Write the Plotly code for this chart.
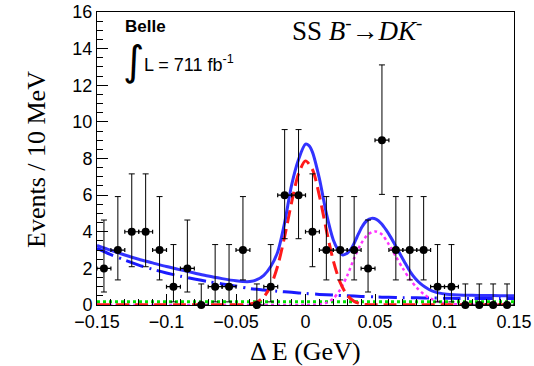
import plotly.graph_objects as go

# ---- data: binned events ----
bin_centers = [-0.145, -0.135, -0.125, -0.115, -0.105, -0.095, -0.085, -0.075, -0.065, -0.055,
               -0.045, -0.035, -0.025, -0.015, -0.005, 0.005, 0.015, 0.025, 0.035, 0.045,
               0.055, 0.065, 0.075, 0.085, 0.095, 0.105, 0.115, 0.125, 0.135, 0.145]
counts = [2, 3, 4, 4, 3, 1, 2, 0, 1, 1,
          3, 0, 1, 6, 6, 4, 3, 3, 3, 2,
          9, 3, 3, 3, 1, 1, 0, 0, 0, 0]
err_hi = [2.64, 2.92, 3.16, 3.16, 2.92, 2.30, 2.64, 1.15, 2.30, 2.30,
          2.92, 1.15, 2.30, 3.58, 3.58, 3.16, 2.92, 2.92, 2.92, 2.64,
          4.11, 2.92, 2.92, 2.92, 2.30, 2.30, 1.15, 1.15, 1.15, 1.15]
err_lo = [1.29, 1.63, 1.91, 1.91, 1.63, 0.83, 1.29, 0.0, 0.83, 0.83,
          1.63, 0.0, 0.83, 2.38, 2.38, 1.91, 1.63, 1.63, 1.63, 1.29,
          2.96, 1.63, 1.63, 1.63, 0.83, 0.83, 0.0, 0.0, 0.0, 0.0]
half_bin = [0.005] * 30

# ---- fit curves ----
total_x = [-0.15, -0.14, -0.13, -0.12, -0.11, -0.10, -0.09, -0.08, -0.07, -0.06, -0.05, -0.045,
           -0.04, -0.035, -0.03, -0.025, -0.02, -0.015, -0.01, -0.005, 0.0, 0.0025, 0.005, 0.01,
           0.015, 0.02, 0.0235, 0.0265, 0.03, 0.0335, 0.037, 0.0405, 0.044, 0.0475, 0.051, 0.0545,
           0.058, 0.0615, 0.065, 0.0685, 0.072, 0.0755, 0.079, 0.0825, 0.086, 0.0895, 0.093, 0.0965,
           0.10, 0.11, 0.12, 0.13, 0.14, 0.15]
total_y = [3.25, 2.98, 2.73, 2.5, 2.3, 2.1, 1.92, 1.75, 1.58, 1.44, 1.32, 1.28,
           1.28, 1.38, 1.62, 2.1, 2.9, 4.5, 6.55, 7.95, 8.78, 8.7, 8.35, 6.9,
           5.0, 3.55, 3.0, 2.74, 2.82, 3.15, 3.7, 4.25, 4.6, 4.73, 4.68, 4.45,
           4.1, 3.68, 3.2, 2.72, 2.25, 1.8, 1.45, 1.18, 0.98, 0.82, 0.72, 0.65,
           0.6, 0.55, 0.53, 0.52, 0.51, 0.5]

signal_x = [-0.15, -0.1, -0.06, -0.05, -0.045, -0.04, -0.035, -0.03, -0.025, -0.02, -0.015, -0.01,
            -0.005, 0.0, 0.005, 0.01, 0.015, 0.02, 0.025, 0.03, 0.035, 0.04, 0.045, 0.05, 0.06,
            0.1, 0.15]
signal_y = [0.01, 0.01, 0.01, 0.01, 0.015, 0.05, 0.16, 0.44, 1.05, 2.14, 3.74, 5.6,
            7.17, 7.87, 7.4, 5.96, 4.1, 2.42, 1.22, 0.53, 0.2, 0.06, 0.02, 0.01, 0.01,
            0.01, 0.01]

feed_x = [-0.15, -0.05, 0.0, 0.01, 0.015, 0.02, 0.025, 0.03, 0.035, 0.04, 0.045, 0.05, 0.055,
          0.06, 0.065, 0.07, 0.075, 0.08, 0.085, 0.09, 0.095, 0.1, 0.11, 0.12, 0.15]
feed_y = [0.0, 0.0, 0.0, 0.03, 0.12, 0.35, 0.85, 1.6, 2.55, 3.35, 3.85, 4.02, 3.85,
          3.3, 2.65, 2.0, 1.42, 0.95, 0.6, 0.35, 0.2, 0.1, 0.03, 0.01, 0.0]

bkg_x = [-0.15, -0.14, -0.13, -0.12, -0.11, -0.10, -0.09, -0.08, -0.07, -0.06, -0.05, -0.04,
         -0.03, -0.02, -0.01, 0.0, 0.01, 0.02, 0.03, 0.04, 0.05, 0.06, 0.07, 0.08, 0.09, 0.10,
         0.11, 0.12, 0.13, 0.14, 0.15]
bkg_y = [3.1, 2.75, 2.45, 2.18, 1.95, 1.75, 1.57, 1.42, 1.28, 1.15, 1.03, 0.9,
         0.82, 0.75, 0.69, 0.63, 0.58, 0.54, 0.5, 0.47, 0.44, 0.42, 0.4, 0.39, 0.38, 0.37,
         0.36, 0.36, 0.35, 0.35, 0.35]

flat_x = [-0.15, 0.15]
flat_y = [0.18, 0.18]

x_tickvals = [-0.15, -0.1, -0.05, 0, 0.05, 0.1, 0.15]
x_ticktext = ["\u22120.15", "\u22120.1", "\u22120.05", "0", "0.05", "0.1", "0.15"]
y_tickvals = [0, 2, 4, 6, 8, 10, 12, 14, 16]
y_ticktext = ["0", "2", "4", "6", "8", "10", "12", "14", "16"]

fig = go.Figure()

fig.add_trace(go.Scatter(x=flat_x, y=flat_y, mode="lines",
                         line=dict(color="#00e000", width=3, dash="dot")))
fig.add_trace(go.Scatter(x=bkg_x, y=bkg_y, mode="lines",
                         line=dict(color="#1a1aff", width=3, dash="18px,6px,2px,6px", shape="spline", smoothing=0.8)))
fig.add_trace(go.Scatter(x=feed_x, y=feed_y, mode="lines",
                         line=dict(color="#ff33ff", width=2.5, dash="dot", shape="spline", smoothing=0.8)))
fig.add_trace(go.Scatter(x=signal_x, y=signal_y, mode="lines",
                         line=dict(color="#ff1a1a", width=3, dash="13px,6px", shape="spline", smoothing=0.8)))
fig.add_trace(go.Scatter(x=total_x, y=total_y, mode="lines",
                         line=dict(color="#3333ff", width=3, shape="spline", smoothing=0.8)))
fig.add_trace(go.Scatter(
    x=bin_centers, y=counts, mode="markers", cliponaxis=False,
    marker=dict(color="black", size=8),
    error_y=dict(type="data", symmetric=False, array=err_hi, arrayminus=err_lo,
                 color="black", thickness=1, width=3),
    error_x=dict(type="data", array=half_bin, color="black", thickness=1.2, width=2),
))

axis_font = dict(family="Liberation Sans, Arial, sans-serif", size=18, color="black")

fig.update_layout(
    width=534, height=366,
    margin=dict(l=97, r=20, t=12, b=61, autoexpand=False),
    paper_bgcolor="white", plot_bgcolor="white",
    showlegend=False,
    xaxis=dict(range=[-0.15, 0.15], tickmode="array", tickvals=x_tickvals, ticktext=x_ticktext,
               ticks="inside", ticklen=11, tickcolor="black", tickwidth=1, automargin=False,
               ticklabeloverflow="allow",
               minor=dict(dtick=0.01, tick0=0, ticks="inside", ticklen=6, tickcolor="black"),
               showline=True, linecolor="black", linewidth=1, mirror=True,
               showgrid=False, zeroline=False, tickfont=axis_font),
    yaxis=dict(range=[0, 16], tickmode="array", tickvals=y_tickvals, ticktext=y_ticktext,
               ticks="inside", ticklen=11, tickcolor="black", tickwidth=1, automargin=False,
               ticklabeloverflow="allow",
               minor=dict(dtick=0.5, tick0=0, ticks="inside", ticklen=6, tickcolor="black"),
               showline=True, linecolor="black", linewidth=1, mirror=True,
               showgrid=False, zeroline=False, tickfont=axis_font),
)

def px_x(px):
    return (px - 97) / 417.0

def px_y(py):
    return (305 - py) / 293.0

serif = "Liberation Serif, Times New Roman, serif"
sans = "Liberation Sans, Arial, sans-serif"

fig.add_annotation(xref="paper", yref="paper", x=px_x(36), y=px_y(160), text="Events / 10 MeV",
                   textangle=-90, showarrow=False, font=dict(family=serif, size=26, color="black"),
                   xanchor="center", yanchor="middle")
fig.add_annotation(xref="paper", yref="paper", x=px_x(305.5), y=px_y(351), text="\u0394 E (GeV)",
                   showarrow=False, font=dict(family=serif, size=26, color="black"),
                   xanchor="center", yanchor="middle")
fig.add_annotation(xref="paper", yref="paper", x=px_x(123), y=px_y(26), text="<b>Belle</b>",
                   showarrow=False, font=dict(family=sans, size=17, color="black"),
                   xanchor="left", yanchor="middle")
fig.add_annotation(xref="paper", yref="paper", x=px_x(121), y=px_y(61), text="\u222b",
                   showarrow=False, font=dict(family="DejaVu Sans", size=41, color="black"),
                   xanchor="left", yanchor="middle")
fig.add_annotation(xref="paper", yref="paper", x=px_x(142), y=px_y(64), text="L = 711 fb<sup>-1</sup>",
                   showarrow=False, font=dict(family=sans, size=18, color="black"),
                   xanchor="left", yanchor="middle")
fig.add_annotation(xref="paper", yref="paper", x=px_x(290), y=px_y(29),
                   text="SS <i>B</i><sup>-</sup>\u2192<i>DK</i><sup>-</sup>",
                   showarrow=False, font=dict(family=serif, size=27, color="black"),
                   xanchor="left", yanchor="middle")

# remove the browser's default 8px body margin so the figure fills the window
fig.write_html("out.html", config={"displayModeBar": False},
               post_script="document.body.style.margin='0';")
